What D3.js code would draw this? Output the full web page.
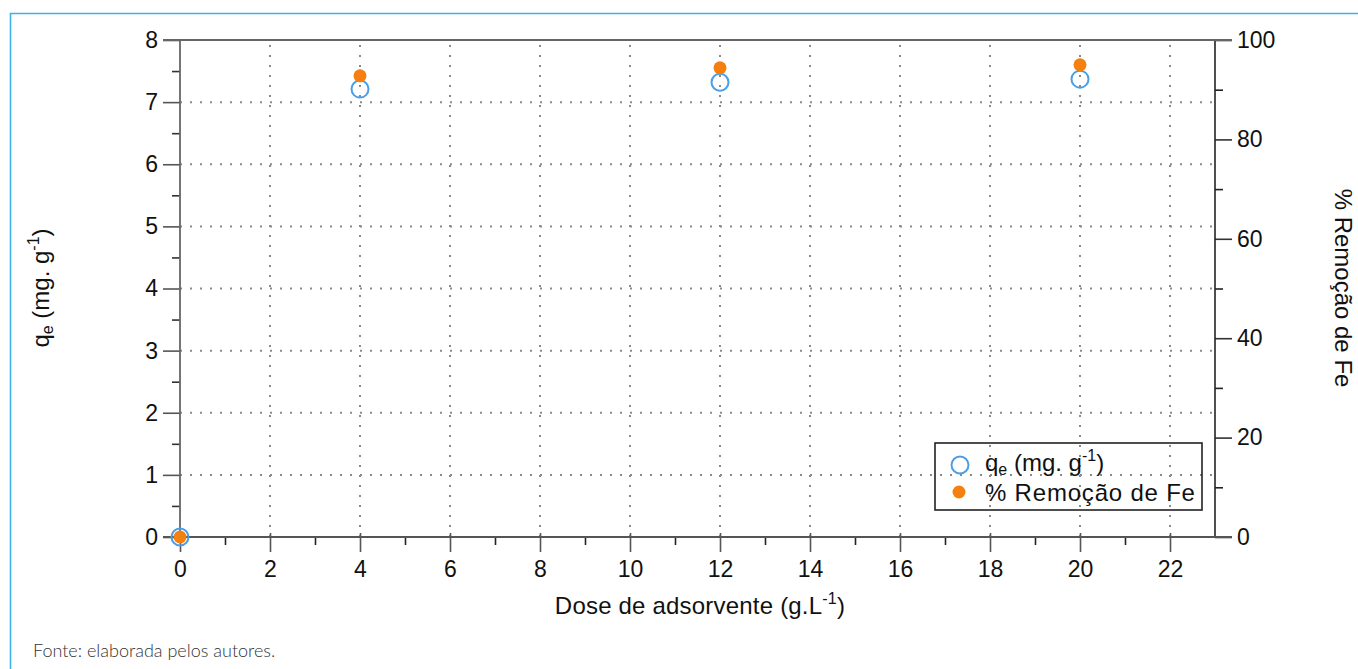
<!DOCTYPE html>
<html>
<head>
<meta charset="utf-8">
<script src="https://cdn.jsdelivr.net/npm/d3@7"></script>
<style>
  body { margin: 0; background: #fff; }
  svg text { font-family: "Liberation Sans", Arial, Helvetica, sans-serif; fill: #111; }
  .fonte { font-family: Lato, "Open Sans", sans-serif; font-weight: 300; fill: #333; }
</style>
</head>
<body>
<svg id="chart" width="1358" height="669"></svg>
<script>
// data
const doses = [0, 4, 12, 20];
const qeValues = [0, 7.21, 7.32, 7.37];
const remocaoValues = [0, 92.8, 94.4, 95.0];

const xTicks = [0, 2, 4, 6, 8, 10, 12, 14, 16, 18, 20, 22];
const xMinor = [1, 3, 5, 7, 9, 11, 13, 15, 17, 19, 21];
const yTicks = [0, 1, 2, 3, 4, 5, 6, 7, 8];
const yMinor = [0.5, 1.5, 2.5, 3.5, 4.5, 5.5, 6.5, 7.5];
const y2Ticks = [0, 20, 40, 60, 80, 100];
const y2Minor = [10, 30, 50, 70, 90];

const margin = { left: 180, right: 143, top: 40, bottom: 132 };
const chartSize = { width: 1358, height: 669 };
const width = chartSize.width - margin.left - margin.right;
const height = chartSize.height - margin.top - margin.bottom;

const x = d3.scaleLinear().domain([0, 23]).range([0, width]);
const y = d3.scaleLinear().domain([0, 8]).range([height, 0]);
const y2 = d3.scaleLinear().domain([0, 100]).range([height, 0]);

const svg = d3.select("#chart");

// light blue page frame
svg.append("path")
  .attr("d", "M10.5,669 V13.5 H1358")
  .attr("fill", "none")
  .attr("stroke", "#3bb3e3")
  .attr("stroke-width", 1.6);

const g = svg.append("g").attr("transform", `translate(${margin.left},${margin.top})`);

// dotted grid
const grid = g.append("g").attr("class", "grid")
  .attr("stroke", "#8a8a8a")
  .attr("stroke-width", 2)
  .attr("stroke-dasharray", "2,8");
grid.selectAll(".gx").data(xTicks.filter(d => d > 0)).join("line")
  .attr("x1", d => x(d)).attr("x2", d => x(d))
  .attr("y1", height).attr("y2", 0);
grid.selectAll(".gy").data(yTicks.filter(d => d > 0 && d < 8)).join("line")
  .attr("x1", 0).attr("x2", width)
  .attr("y1", d => y(d)).attr("y2", d => y(d));

// axes
const styleAxis = (sel, color) => {
  sel.select(".domain").remove();
  sel.selectAll("line").attr("stroke", color).attr("stroke-width", 1.6);
  sel.selectAll("text").attr("font-size", 23).attr("fill", "#111");
};

g.append("g")
  .call(d3.axisLeft(y).tickValues(yTicks).tickSize(17).tickPadding(5).tickFormat(d3.format("d")))
  .call(s => styleAxis(s, "#555"));
g.append("g")
  .call(d3.axisLeft(y).tickValues(yMinor).tickSize(8).tickFormat(""))
  .call(s => styleAxis(s, "#333"));

g.append("g").attr("transform", `translate(${width},0)`)
  .call(d3.axisRight(y2).tickValues(y2Ticks).tickSize(17).tickPadding(5).tickFormat(d3.format("d")))
  .call(s => styleAxis(s, "#333"));
g.append("g").attr("transform", `translate(${width},0)`)
  .call(d3.axisRight(y2).tickValues(y2Minor).tickSize(8).tickFormat(""))
  .call(s => styleAxis(s, "#222"));

const xAxis = g.append("g").attr("transform", `translate(0,${height})`)
  .call(d3.axisBottom(x).tickValues(xTicks).tickSize(15).tickPadding(9).tickFormat(d3.format("d")))
  .call(s => styleAxis(s, "#555"));
xAxis.selectAll(".tick line").attr("y1", -4);
g.append("g").attr("transform", `translate(0,${height})`)
  .call(d3.axisBottom(x).tickValues(xMinor).tickSize(8).tickFormat(""))
  .call(s => styleAxis(s, "#222"));

// frame lines
g.append("line").attr("x1", 0).attr("x2", 0).attr("y1", 0).attr("y2", height)
  .attr("stroke", "#666").attr("stroke-width", 1.8);
g.append("line").attr("x1", width).attr("x2", width).attr("y1", 0).attr("y2", height)
  .attr("stroke", "#222").attr("stroke-width", 1.6);
g.append("line").attr("x1", -17).attr("x2", width + 17).attr("y1", 0).attr("y2", 0)
  .attr("stroke", "#666").attr("stroke-width", 1.8);
g.append("line").attr("x1", -17).attr("x2", width + 17).attr("y1", height).attr("y2", height)
  .attr("stroke", "#555").attr("stroke-width", 1.8);

// data points
const blue = "#4a9ee8";
const orange = "#f5800f";
g.selectAll(".qe").data(doses).join("circle")
  .attr("cx", d => x(d))
  .attr("cy", (d, i) => y(qeValues[i]))
  .attr("r", 8.5)
  .attr("fill", "none")
  .attr("stroke", blue)
  .attr("stroke-width", 2);
g.selectAll(".rem").data(doses).join("circle")
  .attr("cx", d => x(d))
  .attr("cy", (d, i) => y2(remocaoValues[i]))
  .attr("r", 6.5)
  .attr("fill", orange);

// superscript/subscript helper for "qe (mg. g-1)"
const qeLabel = (sel, size) => {
  const small = Math.round(size * 0.65);
  sel.append("tspan").text("q");
  sel.append("tspan").attr("font-size", small).attr("dy", 4).text("e");
  sel.append("tspan").attr("dy", -4).text(" (mg. g");
  sel.append("tspan").attr("font-size", small).attr("dy", -10).text("-1");
  sel.append("tspan").attr("dy", 10).text(")");
};

// legend
const leg = g.append("g").attr("transform", `translate(${935 - margin.left},${443 - margin.top})`);
leg.append("rect").attr("width", 267).attr("height", 67)
  .attr("fill", "none").attr("stroke", "#222").attr("stroke-width", 1.6);
leg.append("circle").attr("cx", 25).attr("cy", 22).attr("r", 8.5)
  .attr("fill", "none").attr("stroke", blue).attr("stroke-width", 2);
leg.append("circle").attr("cx", 24).attr("cy", 49).attr("r", 6.5).attr("fill", orange);
leg.append("text").attr("x", 50).attr("y", 28).attr("font-size", 24)
  .call(s => qeLabel(s, 24));
leg.append("text").attr("x", 50).attr("y", 58).attr("font-size", 24)
  .attr("letter-spacing", 0.8).text("% Remoção de Fe");

// axis titles
const xt = svg.append("text").attr("x", 700).attr("y", 614)
  .attr("text-anchor", "middle").attr("font-size", 24).attr("letter-spacing", 0.2);
xt.append("tspan").text("Dose de adsorvente (g.L");
xt.append("tspan").attr("font-size", 16).attr("dy", -10).text("-1");
xt.append("tspan").attr("dy", 10).text(")");

svg.append("text")
  .attr("transform", "translate(49,288) rotate(-90)")
  .attr("text-anchor", "middle").attr("font-size", 24)
  .call(s => qeLabel(s, 24));

svg.append("text")
  .attr("transform", "translate(1335,288) rotate(90)")
  .attr("text-anchor", "middle").attr("font-size", 24)
  .text("% Remoção de Fe");

// source note
svg.append("text").attr("class", "fonte")
  .attr("x", 33).attr("y", 657).attr("font-size", 18)
  .text("Fonte: elaborada pelos autores.");
</script>
</body>
</html>
